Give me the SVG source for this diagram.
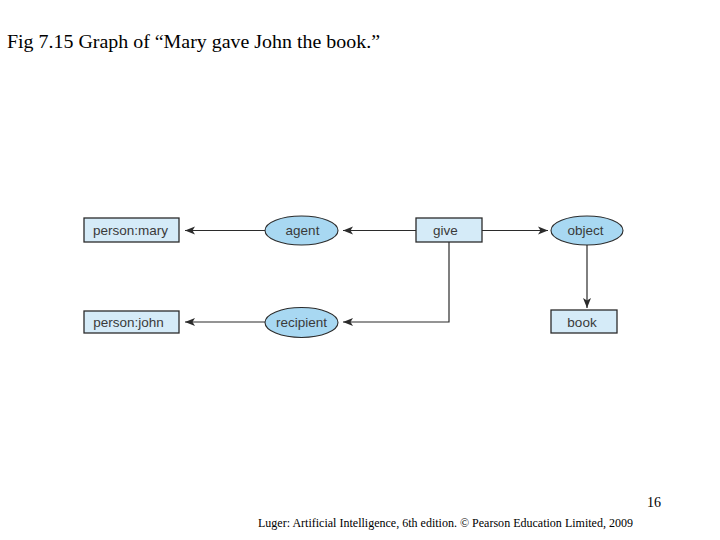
<svg xmlns="http://www.w3.org/2000/svg" width="720" height="540" viewBox="0 0 720 540">
<style>
.box{fill:#d5ebf8;stroke:#2b2b2b;stroke-width:1.3}
.ell{fill:#a8d8f2;stroke:#2b2b2b;stroke-width:1.1}
.lbl{font-family:"Liberation Sans",Arial,sans-serif;font-size:13.5px;fill:#3a3a3a;text-anchor:middle}
.edge{fill:none;stroke:#2b2b2b;stroke-width:1.2}
.ser{font-family:"Liberation Serif","Times New Roman",serif;fill:#000}
</style>
<defs>
<marker id="ah" viewBox="0 0 10 10" refX="10" refY="5" markerWidth="10" markerHeight="10" markerUnits="userSpaceOnUse" orient="auto">
<path d="M0,1 L10,5 L0,9 L2.5,5 Z" fill="#2b2b2b"/>
</marker>
</defs>
<rect width="720" height="540" fill="#fff"/>
<text class="ser" x="7" y="48" font-size="18.5" textLength="373" lengthAdjust="spacingAndGlyphs">Fig 7.15 Graph of “Mary gave John the book.”</text>
<g id="connectors">
<path class="edge" d="M265,230.5 L185,230.5" marker-end="url(#ah)"/>
<path class="edge" d="M416,230.5 L343,230.5" marker-end="url(#ah)"/>
<path class="edge" d="M482,230.5 L548,230.5" marker-end="url(#ah)"/>
<path class="edge" d="M587,245 L587,308" stroke="#555" marker-end="url(#ah)"/>
<path class="edge" d="M449,242 L449,322 L343,322" marker-end="url(#ah)"/>
<path class="edge" d="M265,322 L185,322" stroke="#777" marker-end="url(#ah)"/>
</g>
<g id="person-mary"><rect class="box" x="84" y="218" width="95" height="24"/><text class="lbl" x="130.5" y="235">person:mary</text></g>
<g id="agent"><ellipse class="ell" cx="301.5" cy="230.5" rx="36.5" ry="14.5"/><text class="lbl" x="302.5" y="235">agent</text></g>
<g id="give"><rect class="box" x="416" y="218" width="66" height="24"/><text class="lbl" x="445.5" y="235">give</text></g>
<g id="object"><ellipse class="ell" cx="587" cy="230.5" rx="36" ry="14.5"/><text class="lbl" x="585.5" y="235">object</text></g>
<g id="book"><rect class="box" x="551" y="310" width="66" height="23"/><text class="lbl" x="582" y="327">book</text></g>
<g id="recipient"><ellipse class="ell" cx="301.5" cy="322.5" rx="36.5" ry="15"/><text class="lbl" x="301.5" y="327">recipient</text></g>
<g id="person-john"><rect class="box" x="84" y="311" width="95" height="22"/><text class="lbl" x="128.5" y="327">person:john</text></g>
<text class="ser" x="647" y="507" font-size="14">16</text>
<text class="ser" x="258" y="527" font-size="12" textLength="375" lengthAdjust="spacingAndGlyphs">Luger: Artificial Intelligence, 6th edition. © Pearson Education Limited, 2009</text>
</svg>
